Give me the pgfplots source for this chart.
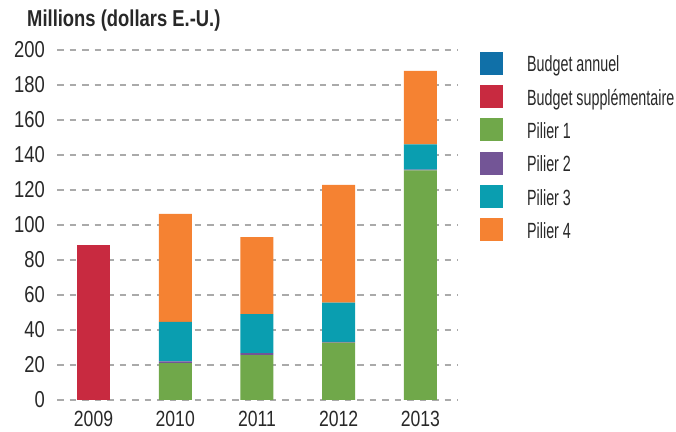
\documentclass[border=0pt]{standalone}
\usepackage{fontspec}
\setmainfont{Liberation Sans}[FakeStretch=0.8]
\newfontfamily\tickfont{Liberation Sans}[FakeStretch=0.8]
\newfontfamily\legfont{Liberation Sans}[FakeStretch=0.65]
\newfontfamily\titlefont{Liberation Sans}[FakeStretch=0.8]
\usepackage{pgfplots}
\usepackage{pgfplotstable}
\pgfplotsset{compat=1.18}
\definecolor{cAnn}{RGB}{16,112,168}
\definecolor{cSup}{RGB}{200,42,64}
\definecolor{cP1}{RGB}{112,168,74}
\definecolor{cP2}{RGB}{115,85,150}
\definecolor{cP3}{RGB}{10,158,176}
\definecolor{cP4}{RGB}{245,130,50}
\definecolor{txt}{RGB}{40,40,40}
\definecolor{gridc}{RGB}{170,170,170}
\newcommand{\legtxt}[1]{\hspace{24bp}\raisebox{-3bp}{#1}}
\pgfplotstableread{
x ann sup p1 p2 p3 p4
0 0 88.5 0 0 0 0
1 0 0 21.0 1.0 22.7 61.6
2 0 0 25.7 1.1 22.3 44.0
3 0 0 32.8 0.4 22.5 67.2
4 0 0 131.2 0.5 14.4 42.0
}\datatab
\begin{document}
\begin{tikzpicture}
\path[use as bounding box] (0,0) rectangle (676bp,432bp);
\begin{axis}[
  at={(57bp,32bp)}, anchor=south west,
  scale only axis, width=401bp, height=350bp,
  xmin=-0.447, xmax=4.46, ymin=0, ymax=200,
  ybar stacked, bar width=33bp,
  axis line style={draw=none},
  major tick length=0pt,
  xtick={0,1,2,3,4},
  xticklabels={2009,2010,2011,2012,2013},
  ytick={0,20,...,200},
  ymajorgrids,
  grid style={gridc, line width=1.3bp, dash pattern=on 6.5bp off 6bp},
  /pgf/number format/assume math mode=true,
  tick label style={font=\tickfont\fontsize{23bp}{23bp}\selectfont, text=txt},
  yticklabel style={inner xsep=0pt, xshift=-12bp},
  xticklabel style={anchor=north, inner ysep=0pt, yshift=-11bp, font=\tickfont\fontsize{22bp}{22bp}\selectfont},
  title={\titlefont\bfseries Millions (dollars E.-U.)},
  title style={at={(rel axis cs:0,1)}, anchor=base west, xshift=-30bp, yshift=18bp, inner sep=0pt, font=\fontsize{23bp}{23bp}\selectfont, text=txt},
  legend image code/.code={\fill[#1] (0bp,-11.5bp) rectangle (23bp,11.5bp);},
  legend style={at={(rel axis cs:1,1)}, anchor=north west, xshift=22bp, yshift=-1.5bp,
    draw=none, fill=none, inner sep=0pt, row sep=10.3bp,
    font=\legfont\fontsize{22bp}{22bp}\selectfont, text=txt,
    nodes={inner xsep=0pt, inner ysep=0pt}},
  legend cell align=left,
  every axis plot/.append style={draw=none},
]
\addplot[fill=cAnn, draw=none] table[x=x, y=ann] {\datatab};
\addlegendentry{\legtxt{Budget annuel}}
\addplot[fill=cSup, draw=none] table[x=x, y=sup] {\datatab};
\addlegendentry{\legtxt{Budget supplémentaire}}
\addplot[fill=cP1, draw=none] table[x=x, y=p1] {\datatab};
\addlegendentry{\legtxt{Pilier 1}}
\addplot[fill=cP2, draw=none] table[x=x, y=p2] {\datatab};
\addlegendentry{\legtxt{Pilier 2}}
\addplot[fill=cP3, draw=none] table[x=x, y=p3] {\datatab};
\addlegendentry{\legtxt{Pilier 3}}
\addplot[fill=cP4, draw=none] table[x=x, y=p4] {\datatab};
\addlegendentry{\legtxt{Pilier 4}}
\end{axis}
\end{tikzpicture}
\end{document}
